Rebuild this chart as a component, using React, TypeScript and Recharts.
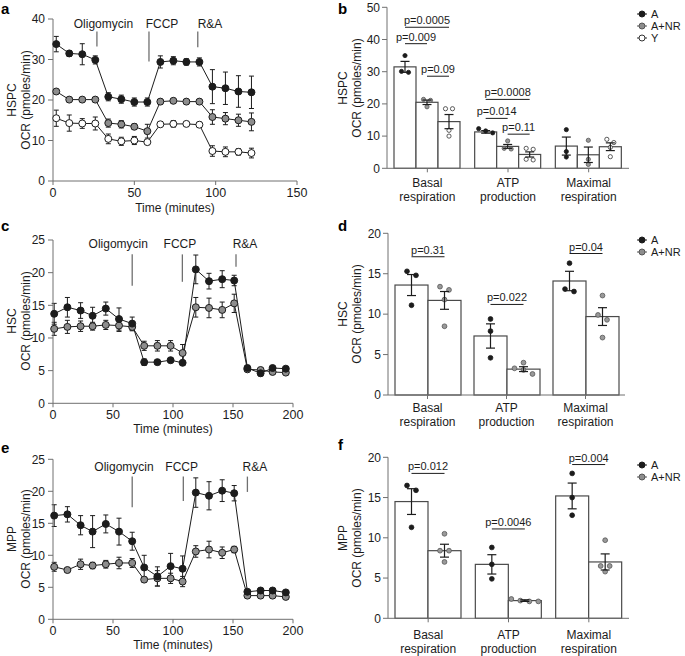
import React from 'react'
import {
  LineChart, Line, ComposedChart, Bar, XAxis, YAxis, ErrorBar, ReferenceLine, ReferenceDot,
} from 'recharts'

const FONT = '"Liberation Sans", Arial, Helvetica, sans-serif'
const INK = '#1c1c1c'
const AXIS = '#707070'
const EDGE = '#4a4a4a'
const GREY = '#8d8d8d'

// time courses, OCR in pmoles/min (mean and SEM)
const hspcTime = [2, 10, 18, 26, 34, 42, 50, 58, 66, 74, 82, 90, 98, 106, 114, 122]
const hspcA = [33.8, 31.5, 31.3, 29.9, 20.8, 20.2, 19.5, 19.5, 29.4, 29.7, 29.4, 29.4, 23.3, 22.9, 22.1, 21.9]
const hspcAErr = [1.9, 0.7, 2.6, 1.0, 1.0, 1.0, 1.0, 1.0, 1.5, 1.0, 0.8, 1.0, 4.2, 4.0, 3.9, 4.0]
const hspcNR = [22.1, 20.1, 20.1, 20.1, 14.3, 14.0, 13.4, 12.3, 19.6, 19.8, 19.6, 19.6, 15.8, 15.4, 15.0, 14.6]
const hspcNRErr = [0.5, 0.4, 0.4, 0.4, 1.0, 0.9, 0.7, 1.7, 0.5, 0.4, 0.4, 0.5, 1.8, 1.5, 1.5, 2.2]
const hspcY = [15.5, 14.3, 14.2, 14.2, 10.4, 9.8, 10.0, 9.6, 14.0, 14.1, 14.1, 13.9, 7.4, 7.2, 7.2, 6.9]
const hspcYErr = [2.0, 2.0, 1.2, 1.6, 1.2, 1.0, 1.0, 0.6, 0.5, 0.8, 0.5, 0.6, 1.3, 1.2, 0.8, 1.2]

const longTime = [1, 12, 23, 33, 44, 55, 66, 76, 87, 98, 108, 119, 130, 141, 151, 162, 173, 183, 194]
const hscA = [13.7, 14.7, 14.2, 13.4, 14.5, 12.9, 12.2, 6.3, 6.3, 6.6, 6.2, 20.5, 18.7, 19.0, 18.8, 5.4, 4.6, 5.4, 5.3]
const hscAErr = [1.6, 1.5, 1.2, 1.3, 1.0, 1.7, 1.0, 0.5, 0.3, 0.3, 0.3, 2.2, 1.2, 1.3, 0.8, 0.4, 0.4, 0.3, 0.3]
const hscNR = [11.4, 11.7, 11.8, 11.8, 12.0, 11.9, 11.7, 8.8, 8.8, 8.8, 7.7, 14.7, 14.6, 14.3, 15.3, 5.2, 5.1, 4.8, 4.7]
const hscNRErr = [1.0, 1.0, 0.8, 0.6, 0.7, 0.9, 0.6, 0.7, 0.8, 0.8, 1.3, 1.5, 1.5, 1.2, 1.4, 0.3, 0.3, 0.3, 0.3]
const mppA = [16.2, 16.4, 14.7, 13.7, 14.9, 13.7, 12.2, 8.1, 6.7, 8.3, 7.9, 19.8, 19.3, 20.1, 19.7, 4.3, 4.5, 4.5, 4.2]
const mppAErr = [1.7, 1.2, 1.5, 2.5, 1.4, 2.1, 1.4, 1.9, 1.5, 2.0, 2.0, 2.3, 2.2, 1.7, 1.2, 0.3, 0.3, 0.3, 0.3]
const mppNR = [8.2, 7.7, 8.6, 8.4, 8.6, 8.8, 8.8, 6.2, 6.4, 6.4, 5.9, 10.6, 10.9, 10.4, 10.9, 3.7, 3.7, 3.7, 3.5]
const mppNRErr = [0.7, 0.3, 0.8, 0.5, 0.6, 0.9, 0.7, 0.4, 1.2, 0.8, 0.8, 0.9, 1.3, 0.9, 0.5, 0.3, 0.3, 0.3, 0.3]

// injection marks: line x, line y span, label anchor (data units)
const hspcInject = [
  { name: 'Oligomycin', at: 27, from: 33.2, to: 36.9, tx: 31, ty: 38.9 },
  { name: 'FCCP', at: 59, from: 29.5, to: 36.9, tx: 67, ty: 38.9 },
  { name: 'R&A', at: 89, from: 33.0, to: 36.9, tx: 96.5, ty: 38.9 },
]
const hscInject = [
  { name: 'Oligomycin', at: 66, from: 18.0, to: 22.8, tx: 54.4, ty: 24.5 },
  { name: 'FCCP', at: 107.8, from: 18.6, to: 22.8, tx: 105.8, ty: 24.5 },
  { name: 'R&A', at: 152.5, from: 20.9, to: 22.8, tx: 160, ty: 24.5 },
]
const mppInject = [
  { name: 'Oligomycin', at: 66, from: 17.5, to: 22.3, tx: 59.2, ty: 23.8 },
  { name: 'FCCP', at: 108.6, from: 18.5, to: 22.3, tx: 107.2, ty: 23.8 },
  { name: 'R&A', at: 162, from: 19.9, to: 22.3, tx: 168.3, ty: 23.8 },
]

// bar summaries
const cats = ['Basal\nrespiration', 'ATP\nproduction', 'Maximal\nrespiration']

const hspcBarA = [31.5, 11.3, 6.9]
const hspcSemA = [1.7, 0.4, 2.8]
const hspcDotsA = [[35, 29.8, 30.1], [12.3, 11.0, 11.6], [12.0, 5.2, 3.5]]
const hspcBarNR = [20.5, 6.8, 4.2]
const hspcSemNR = [0.7, 0.6, 2.4]
const hspcDotsNR = [[21.4, 19.1, 21.1], [8.5, 6.2, 6.0], [8.7, 2.8, 1.2]]
const hspcBarY = [14.5, 4.3, 6.7]
const hspcSemY = [2.2, 0.8, 1.2]
const hspcDotsY = [[18.5, 18.5, 11.8, 10.0], [6.2, 5.9, 2.8, 2.6], [9.0, 8.0, 6.5, 3.6]]
const hspcP = [
  { cat: 0, from: 0, to: 2, y: 43.8, text: 'p=0.0005' },
  { cat: 0, from: 0, to: 1, y: 38.7, text: 'p=0.009' },
  { cat: 0, from: 1, to: 2, y: 28.6, text: 'p=0.09' },
  { cat: 1, from: 0, to: 2, y: 21.4, text: 'p=0.0008' },
  { cat: 1, from: 0, to: 1, y: 15.5, text: 'p=0.014' },
  { cat: 1, from: 1, to: 2, y: 10.6, text: 'p=0.11' },
]

const hscBarA = [13.6, 7.3, 14.1]
const hscSemA = [1.3, 1.5, 1.2]
const hscDotsA = [[15.3, 14.8, 11.1], [9.4, 7.9, 4.6], [16.3, 13.1, 12.8]]
const hscBarNR = [11.7, 3.2, 9.7]
const hscSemNR = [1.1, 0.3, 1.1]
const hscDotsNR = [[13.0, 13.4, 11.8, 8.5], [4.0, 3.3, 3.1, 2.6], [12.3, 9.9, 9.3, 7.1]]
const hscP = [
  { cat: 0, from: 0, to: 1, y: 17.1, text: 'p=0.31' },
  { cat: 1, from: 0, to: 1, y: 11.2, text: 'p=0.022' },
  { cat: 2, from: 0, to: 1, y: 17.5, text: 'p=0.04' },
]

const mppBarA = [14.5, 6.7, 15.2]
const mppSemA = [1.6, 1.2, 1.6]
const mppDotsA = [[16.5, 15.9, 11.3], [8.8, 6.7, 4.9], [18.0, 15.0, 12.8]]
const mppBarNR = [8.4, 2.2, 7.0]
const mppSemNR = [0.8, 0.1, 1.0]
const mppDotsNR = [[10.5, 8.4, 8.4, 7.0], [2.1, 2.4, 2.2, 2.1], [9.7, 6.5, 6.5, 5.8]]
const mppP = [
  { cat: 0, from: 0, to: 1, y: 18.0, text: 'p=0.012' },
  { cat: 1, from: 0, to: 1, y: 11.1, text: 'p=0.0046' },
  { cat: 2, from: 0, to: 1, y: 19.1, text: 'p=0.004' },
]

type Series = { key: string; values: number[]; errors: number[]; fill: string }
type Inject = { name: string; at: number; from: number; to: number; tx: number; ty: number }
type Arm = { key: string; means: number[]; sem: number[]; dots: number[][]; fill: string; ring: string }
type Bracket = { cat: number; from: number; to: number; y: number; text: string }

function TimeCourse(props: {
  box: number[]; top: number; right: number; axisH: number; titleGap: number
  times: number[]; xTicks: number[]; yTicks: number[]; series: Series[]; inject: Inject[]
}) {
  const { box, top, right, axisH, titleGap, times, xTicks, yTicks, series, inject } = props
  const rows = times.map((t, i) => {
    const row: Record<string, number> = { t }
    for (const s of series) {
      row[s.key] = s.values[i]
      row[s.key + 'Err'] = s.errors[i]
    }
    return row
  })
  return (
    <div style={{ position: 'absolute', left: box[0], top: box[1] }}>
      <LineChart width={box[2]} height={box[3]} data={rows} margin={{ top, right, bottom: 0, left: 13 }}>
        <XAxis type="number" dataKey="t" domain={[0, xTicks[xTicks.length - 1]]} ticks={xTicks} interval={0}
          height={axisH} stroke={AXIS} tick={{ fill: INK, fontSize: 12.5 }} tickSize={4} tickMargin={3}
          label={{ value: 'Time (minutes)', position: 'insideBottom', offset: titleGap, fill: INK, fontSize: 12 }} />
        <YAxis type="number" domain={[0, yTicks[yTicks.length - 1]]} ticks={yTicks} interval={0} width={40}
          stroke={AXIS} tick={{ fill: INK, fontSize: 12 }} tickSize={5} tickMargin={3} />
        {inject.map(m => (
          <ReferenceLine key={m.name} segment={[{ x: m.at, y: m.from }, { x: m.at, y: m.to }]} stroke={AXIS} strokeWidth={1.3} />
        ))}
        {inject.map(m => (
          <ReferenceDot key={m.name + '-t'} x={m.tx} y={m.ty} r={0} fill="none" stroke="none"
            label={{ value: m.name, position: 'center', fill: INK, fontSize: 12 }} />
        ))}
        {series.map(s => (
          <Line key={s.key} type="linear" dataKey={s.key} stroke={INK} strokeWidth={1} isAnimationActive={false}
            dot={{ r: 3.5, fill: s.fill, stroke: INK, strokeWidth: 1 }} activeDot={false}>
            <ErrorBar dataKey={s.key + 'Err'} direction="y" width={2.5} stroke={INK} strokeWidth={1} />
          </Line>
        ))}
      </LineChart>
    </div>
  )
}

// spread points that would overlap side by side, like a column scatter
function swarm(values: number[], toPx: (v: number) => number, step: number) {
  const pts = values.map((v, i) => ({ i, y: toPx(v) })).sort((a, b) => a.y - b.y)
  const out = values.map(() => 0)
  let start = 0
  for (let k = 1; k <= pts.length; k++) {
    if (k === pts.length || pts[k].y - pts[k - 1].y > step * 0.6) {
      const n = k - start
      for (let j = start; j < k; j++) out[pts[j].i] = (j - start - (n - 1) / 2) * step
      start = k
    }
  }
  return out
}

function Barplot(props: {
  box: number[]; top: number; left: number; right: number; axisH: number; yTicks: number[]
  arms: Arm[]; brackets: Bracket[]; r: number; spread: number; catDy: number
}) {
  const { box, top, left, right, axisH, yTicks, arms, brackets, r, spread, catDy } = props
  const gap = 0
  const rows = cats.map((c, i) => {
    const row: Record<string, number | string> = { cat: c }
    for (const a of arms) {
      row[a.key] = a.means[i]
      row[a.key + 'Sem'] = a.sem[i]
    }
    return row
  })

  const shape = (ai: number) => (p: any) => {
    const { x, y, width, height, index } = p
    const arm = arms[ai]
    const unit = height / arm.means[index]
    const base = y + height
    const toPx = (v: number) => base - v * unit
    const cx = x + width / 2
    const vals = arm.dots[index]
    const offs = swarm(vals, toPx, spread)
    return (
      <g>
        <rect x={x} y={y} width={width} height={height} fill="#fff" stroke={EDGE} strokeWidth={1.2} />
        {vals.map((v, k) => (
          <circle key={k} cx={cx + offs[k]} cy={toPx(v)} r={r} fill={arm.fill} stroke={arm.ring} strokeWidth={0.8} />
        ))}
        {ai === 0 && brackets.filter(b => b.cat === index).map(b => {
          const x1 = cx + b.from * (width + gap)
          const x2 = cx + b.to * (width + gap)
          const yy = toPx(b.y)
          return (
            <g key={b.text}>
              <line x1={x1} x2={x2} y1={yy} y2={yy} stroke={INK} strokeWidth={1} />
              <text x={(x1 + x2) / 2} y={yy - 3} textAnchor="middle" fontSize={11} fill={INK}>{b.text}</text>
            </g>
          )
        })}
      </g>
    )
  }

  const catTick = (p: any) => {
    const [l1, l2] = String(p.payload.value).split('\n')
    return (
      <text x={p.x} y={p.y} textAnchor="middle" fontSize={12} fill={INK}>
        <tspan x={p.x} dy={catDy}>{l1}</tspan>
        <tspan x={p.x} dy={14}>{l2}</tspan>
      </text>
    )
  }

  return (
    <div style={{ position: 'absolute', left: box[0], top: box[1] }}>
      <ComposedChart width={box[2]} height={box[3]} data={rows} margin={{ top, right, bottom: 0, left }}
        barCategoryGap={7} barGap={gap}>
        <XAxis dataKey="cat" height={axisH} stroke={AXIS} tickSize={4} tickMargin={2} interval={0} tick={catTick} />
        <YAxis type="number" domain={[0, yTicks[yTicks.length - 1]]} ticks={yTicks} interval={0} width={40}
          stroke={AXIS} tick={{ fill: INK, fontSize: 12 }} tickSize={5} tickMargin={2} />
        {arms.map((a, ai) => (
          <Bar key={a.key} dataKey={a.key} isAnimationActive={false} shape={shape(ai)}>
            <ErrorBar dataKey={a.key + 'Sem'} direction="y" width={4.5} stroke={INK} strokeWidth={1.2} />
          </Bar>
        ))}
      </ComposedChart>
    </div>
  )
}

function Key({ x, y, step, items }: { x: number; y: number; step: number; items: { name: string; fill: string; ring: string }[] }) {
  return (
    <svg style={{ position: 'absolute', left: x - 6, top: y - 6, overflow: 'visible' }} width={52} height={step * items.length + 6}>
      {items.map((it, i) => (
        <g key={it.name} transform={`translate(6, ${6 + i * step})`}>
          <line x1={-5} x2={5} y1={0} y2={0} stroke={it.ring} strokeWidth={1} />
          <circle cx={0} cy={0} r={3} fill={it.fill} stroke={it.ring} strokeWidth={1} />
          <text x={9} y={4} fontSize={11} fill={INK}>{it.name}</text>
        </g>
      ))}
    </svg>
  )
}

function Letter({ x, y, ch }: { x: number; y: number; ch: string }) {
  return <div style={{ position: 'absolute', left: x, top: y, fontSize: 15, fontWeight: 700, lineHeight: '15px', color: '#000' }}>{ch}</div>
}

function Title({ cx, cy, lines }: { cx: number; cy: number; lines: string[] }) {
  return (
    <div style={{
      position: 'absolute', left: cx, top: cy, transform: 'translate(-50%, -50%) rotate(-90deg)',
      whiteSpace: 'nowrap', textAlign: 'center', fontSize: 12, lineHeight: '13.5px', color: INK,
    }}>
      {lines.map(l => <div key={l}>{l}</div>)}
    </div>
  )
}

const keyA = { name: 'A', fill: INK, ring: INK }
const keyNR = { name: 'A+NR', fill: GREY, ring: '#555' }
const keyY = { name: 'Y', fill: '#fff', ring: '#333' }

export default function App() {
  return (
    <div style={{ position: 'absolute', left: 0, top: 0, width: 685, height: 656, background: '#fff', overflow: 'hidden', fontFamily: FONT }}>
      <TimeCourse box={[0, 0, 310, 215]} top={19} right={13} axisH={34} titleGap={3}
        times={hspcTime} xTicks={[0, 50, 100, 150]} yTicks={[0, 10, 20, 30, 40]} inject={hspcInject}
        series={[
          { key: 'Y', values: hspcY, errors: hspcYErr, fill: '#fff' },
          { key: 'NR', values: hspcNR, errors: hspcNRErr, fill: GREY },
          { key: 'A', values: hspcA, errors: hspcAErr, fill: INK },
        ]} />
      <TimeCourse box={[0, 215, 310, 222]} top={25} right={17} axisH={33.7} titleGap={4}
        times={longTime} xTicks={[0, 50, 100, 150, 200]} yTicks={[0, 5, 10, 15, 20, 25]} inject={hscInject}
        series={[
          { key: 'NR', values: hscNR, errors: hscNRErr, fill: GREY },
          { key: 'A', values: hscA, errors: hscAErr, fill: INK },
        ]} />
      <TimeCourse box={[0, 430, 310, 226]} top={29.3} right={17} axisH={36.7} titleGap={7}
        times={longTime} xTicks={[0, 50, 100, 150, 200]} yTicks={[0, 5, 10, 15, 20, 25]} inject={mppInject}
        series={[
          { key: 'NR', values: mppNR, errors: mppNRErr, fill: GREY },
          { key: 'A', values: mppA, errors: mppAErr, fill: INK },
        ]} />

      <Barplot box={[340, 0, 345, 215]} top={7.3} left={7} right={56} axisH={46.7} yTicks={[0, 10, 20, 30, 40, 50]}
        r={2.1} spread={7} catDy={13} brackets={hspcP}
        arms={[
          { key: 'A', means: hspcBarA, sem: hspcSemA, dots: hspcDotsA, fill: INK, ring: INK },
          { key: 'NR', means: hspcBarNR, sem: hspcSemNR, dots: hspcDotsNR, fill: '#999', ring: '#555' },
          { key: 'Y', means: hspcBarY, sem: hspcSemY, dots: hspcDotsY, fill: '#fff', ring: '#333' },
        ]} />
      <Barplot box={[340, 215, 345, 217]} top={18.3} left={8} right={60} axisH={37} yTicks={[0, 5, 10, 15, 20]}
        r={2.4} spread={9} catDy={11} brackets={hscP}
        arms={[
          { key: 'A', means: hscBarA, sem: hscSemA, dots: hscDotsA, fill: INK, ring: INK },
          { key: 'NR', means: hscBarNR, sem: hscSemNR, dots: hscDotsNR, fill: '#999', ring: '#555' },
        ]} />
      <Barplot box={[340, 430, 345, 226]} top={27.3} left={8} right={56} axisH={37.7} yTicks={[0, 5, 10, 15, 20]}
        r={2.4} spread={9} catDy={15} brackets={mppP}
        arms={[
          { key: 'A', means: mppBarA, sem: mppSemA, dots: mppDotsA, fill: INK, ring: INK },
          { key: 'NR', means: mppBarNR, sem: mppSemNR, dots: mppDotsNR, fill: '#999', ring: '#555' },
        ]} />

      <Key x={642} y={13.5} step={12} items={[keyA, keyNR, keyY]} />
      <Key x={642} y={240} step={12} items={[keyA, keyNR]} />
      <Key x={642} y={465} step={12} items={[keyA, keyNR]} />

      <Title cx={18.5} cy={100} lines={['HSPC', 'OCR (pmoles/min)']} />
      <Title cx={18.5} cy={321} lines={['HSC', 'OCR (pmoles/min)']} />
      <Title cx={18.5} cy={539} lines={['MPP', 'OCR (pmoles/min)']} />
      <Title cx={350} cy={88} lines={['HSPC', 'OCR (pmoles/min)']} />
      <Title cx={350} cy={314} lines={['HSC', 'OCR (pmoles/min)']} />
      <Title cx={350} cy={538} lines={['MPP', 'OCR (pmoles/min)']} />

      <Letter x={1} y={1} ch="a" />
      <Letter x={338} y={1} ch="b" />
      <Letter x={1} y={218} ch="c" />
      <Letter x={338} y={218} ch="d" />
      <Letter x={1} y={440} ch="e" />
      <Letter x={338} y={437} ch="f" />
    </div>
  )
}
